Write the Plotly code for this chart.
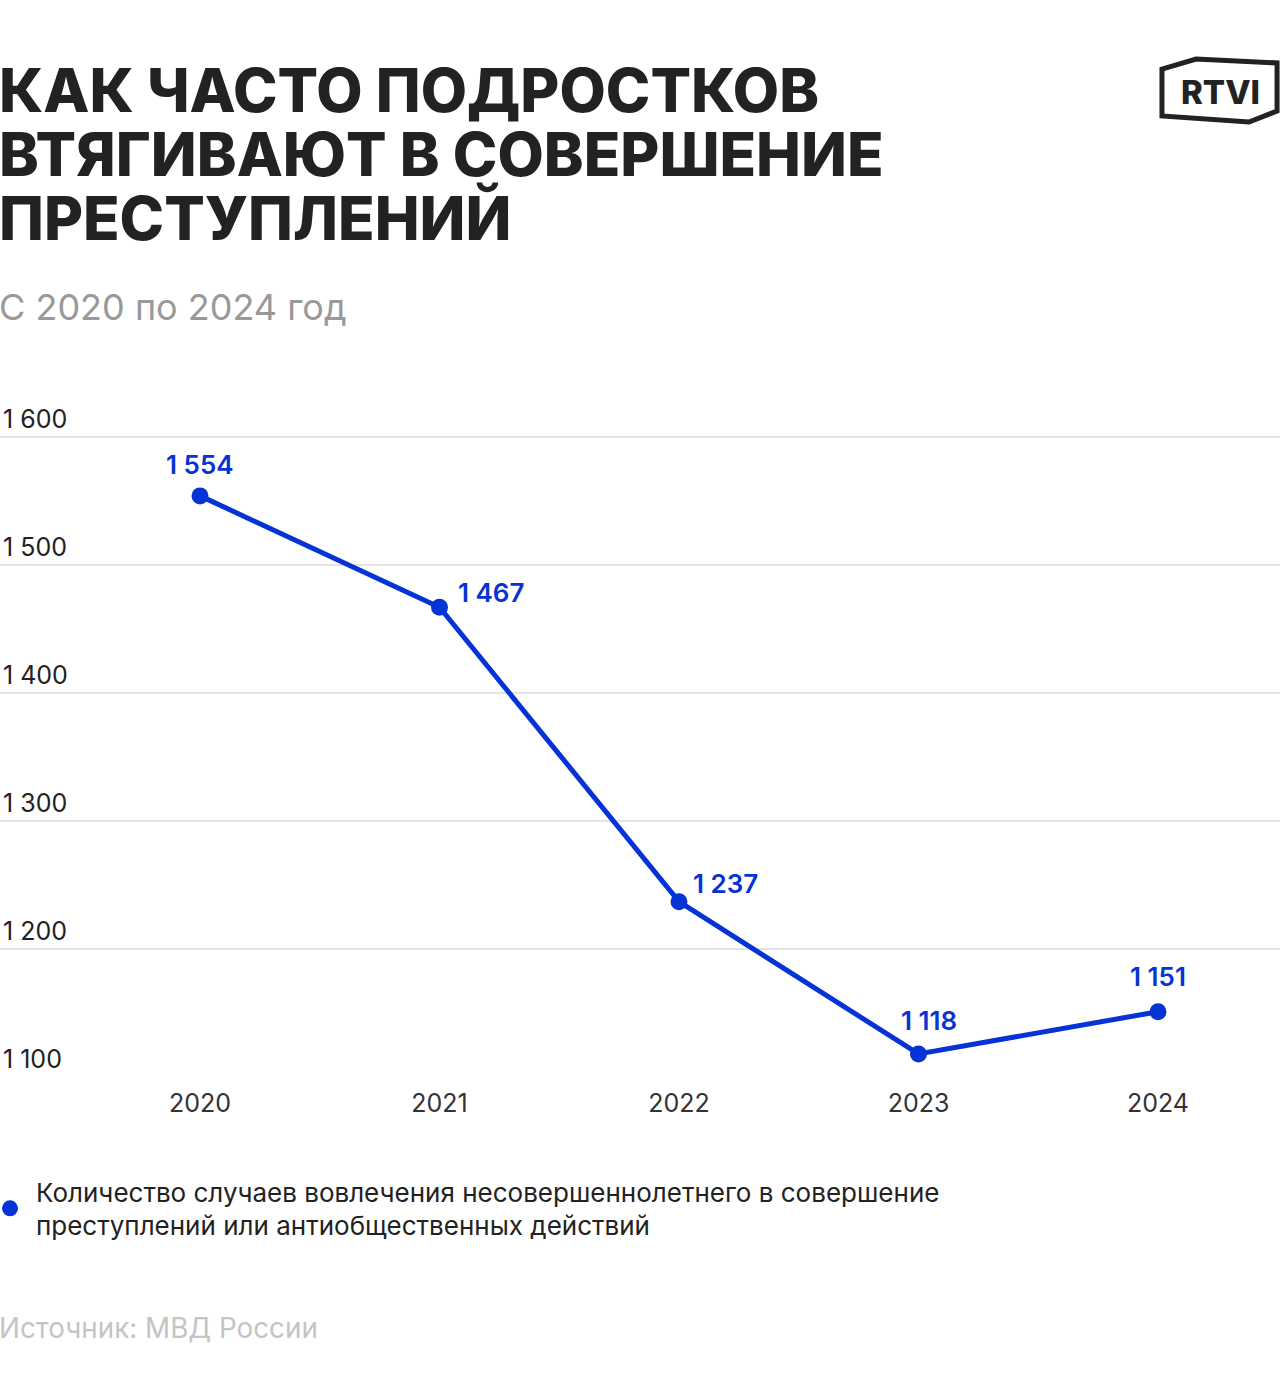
import plotly.graph_objects as go

years = [2020, 2021, 2022, 2023, 2024]
cases = [1554, 1467, 1237, 1118, 1151]
case_labels = ["1 554", "1 467", "1 237", "1 118", "1 151"]

# label offsets from each point, in pixels (style only)
label_dx = [0, 51, 46, 10, 0]
label_dy = [31, 15, 18, 33, 35]

y_ticks = [1100, 1200, 1300, 1400, 1500, 1600]
y_ticktext = ["1 100", "1 200", "1 300", "1 400", "1 500", "1 600"]

title_lines = ["КАК ЧАСТО ПОДРОСТКОВ", "ВТЯГИВАЮТ В СОВЕРШЕНИЕ", "ПРЕСТУПЛЕНИЙ"]
series_name = ("Количество случаев вовлечения несовершеннолетнего в совершение<br>"
               "преступлений или антиобщественных действий")

BLUE = "#0533D6"
FONT = "Inter"

# plot area in page pixels: 1600 sits at y=437, 1100 at y=1077 (1.28 px per unit)
TOP, BOTTOM = 365, 1078
H = BOTTOM - TOP
Y_MIN = 1100 - 1 / 1.28
Y_MAX = 1600 + (437 - TOP) / 1.28


def py(y):
    # page pixel -> paper coordinate
    return (BOTTOM - y) / H


fig = go.Figure()

fig.add_trace(go.Scatter(
    x=years, y=cases,
    mode="lines+markers",
    line=dict(color=BLUE, width=5),
    marker=dict(color=BLUE, size=17),
    showlegend=False,
    cliponaxis=False,
))

# legend entry: dot only
fig.add_trace(go.Scatter(
    x=[None], y=[None], mode="markers",
    marker=dict(color=BLUE, size=20),
    name=series_name,
))

annotations = []
for x, y, t, dx, dy in zip(years, cases, case_labels, label_dx, label_dy):
    annotations.append(dict(
        x=x, y=y, text=t, xref="x", yref="y", showarrow=False,
        xanchor="center", yanchor="middle", xshift=dx, yshift=dy,
        font=dict(family=FONT, size=26, color=BLUE, weight=600)))

for i, line in enumerate(title_lines):
    annotations.append(dict(
        text=line, xref="paper", yref="paper", x=-0.002, y=py(90 + 64 * i),
        xanchor="left", yanchor="middle", align="left", showarrow=False,
        font=dict(family=FONT, size=60, color="#222", weight=800)))
annotations += [
    dict(text="С 2020 по 2024 год",
         xref="paper", yref="paper", x=-0.002, y=py(307),
         xanchor="left", yanchor="middle", align="left", showarrow=False,
         font=dict(family=FONT, size=36, color="#999")),
    dict(text="Источник: МВД России",
         xref="paper", yref="paper", x=-0.002, y=py(1328),
         xanchor="left", yanchor="middle", align="left", showarrow=False,
         font=dict(family=FONT, size=27.8, color="#c4c4c4")),
    dict(text="RTVI",
         xref="paper", yref="paper", x=1220 / 1280, y=py(92),
         xanchor="center", yanchor="middle", showarrow=False,
         font=dict(family=FONT, size=33, color="#222", weight=800)),
]

logo_pts = [(1162, 69), (1196, 59), (1277, 63), (1277, 111), (1249, 122), (1162, 116)]
logo_path = "M " + " L ".join(f"{px / 1280:.4f} {py(y):.4f}" for px, y in logo_pts) + " Z"

fig.update_layout(
    width=1280, height=1400,
    paper_bgcolor="white", plot_bgcolor="white",
    margin=dict(l=0, r=0, t=TOP, b=1400 - BOTTOM, autoexpand=False),
    font=dict(family=FONT, color="#222"),
    xaxis=dict(
        range=[2020 - 200 / 239.5, 2020 + 1080 / 239.5],
        tickvals=years, ticktext=[str(y) for y in years],
        showgrid=False, zeroline=False, showline=False,
        tickfont=dict(size=25, color="#333"),
        ticks="", ticklabelstandoff=8,
    ),
    yaxis=dict(
        range=[Y_MIN, Y_MAX],
        tickvals=y_ticks, ticktext=y_ticktext,
        ticklabelposition="inside top",
        showgrid=True, gridcolor="#e3e3e3", gridwidth=2,
        zeroline=False, showline=False,
        tickfont=dict(size=25, color="#222"),
        ticks="",
    ),
    legend=dict(
        x=-16 / 1280, y=py(1168), xanchor="left", yanchor="top",
        font=dict(size=26, color="#222"),
        itemwidth=42, tracegroupgap=0,
    ),
    annotations=annotations,
    shapes=[
        dict(type="path", xref="paper", yref="paper", path=logo_path,
             line=dict(color="#222", width=5), fillcolor="rgba(0,0,0,0)"),
    ],
)

fig.write_html("out.html", config={"displayModeBar": False},
               post_script="document.body.style.margin='0';")
